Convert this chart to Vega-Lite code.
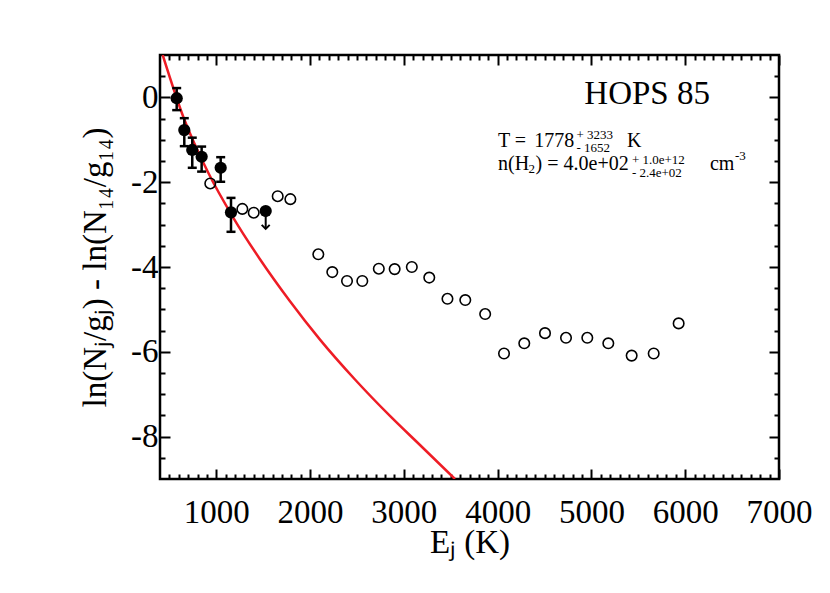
{
  "$schema": "https://vega.github.io/schema/vega-lite/v6.json",
  "width": 619,
  "height": 424,
  "autosize": "none",
  "padding": {"left": 160, "top": 55, "right": 51, "bottom": 114},
  "background": "white",
  "config": {
    "view": {"stroke": "black", "strokeWidth": 2.5},
    "axis": {
      "grid": false, "domain": false, "tickColor": "black", "tickWidth": 2,
      "labelFont": "Liberation Serif", "labelFontSize": 33, "labelColor": "black",
      "titleFont": "Liberation Serif", "titleFontSize": 33, "titleFontWeight": "normal", "titleColor": "black",
      "labelFlush": false, "labelOverlap": false, "labelBound": false
    }
  },
  "datasets": {
    "curve": [
      {"E": 429, "v": 1.0}, {"E": 648, "v": -0.455}, {"E": 912, "v": -1.767}, {"E": 1182, "v": -2.84},
      {"E": 1466, "v": -3.816}, {"E": 1786, "v": -4.807}, {"E": 2106, "v": -5.712}, {"E": 2479, "v": -6.653},
      {"E": 2852, "v": -7.512}, {"E": 3172, "v": -8.198}, {"E": 3545, "v": -9.0}
    ],
    "open": [
      {"E": 936, "v": -2.03}, {"E": 1278, "v": -2.63}, {"E": 1399, "v": -2.72}, {"E": 1655, "v": -2.33},
      {"E": 1790, "v": -2.40}, {"E": 2088, "v": -3.70}, {"E": 2237, "v": -4.12}, {"E": 2394, "v": -4.33},
      {"E": 2557, "v": -4.33}, {"E": 2733, "v": -4.04}, {"E": 2902, "v": -4.05}, {"E": 3085, "v": -4.0},
      {"E": 3271, "v": -4.25}, {"E": 3465, "v": -4.75}, {"E": 3655, "v": -4.78}, {"E": 3867, "v": -5.11},
      {"E": 4068, "v": -6.04}, {"E": 4284, "v": -5.80}, {"E": 4505, "v": -5.56}, {"E": 4729, "v": -5.67},
      {"E": 4956, "v": -5.67}, {"E": 5180, "v": -5.80}, {"E": 5429, "v": -6.09}, {"E": 5664, "v": -6.04},
      {"E": 5930, "v": -5.33}
    ],
    "det": [
      {"E": 578, "v": -0.02, "lo": -0.30, "hi": 0.22},
      {"E": 659, "v": -0.77, "lo": -1.15, "hi": -0.49},
      {"E": 744, "v": -1.24, "lo": -1.66, "hi": -0.95},
      {"E": 844, "v": -1.40, "lo": -1.75, "hi": -1.16},
      {"E": 1047, "v": -1.66, "lo": -1.99, "hi": -1.41},
      {"E": 1157, "v": -2.71, "lo": -3.17, "hi": -2.37}
    ],
    "lim": [{"E": 1527, "v": -2.68, "end": -3.10}],
    "big": [{"E": 6264, "v": -0.156, "t": "HOPS 85"}],
    "main": [
      {"E": 4004, "v": -1.17, "t": "T ="},
      {"E": 4390, "v": -1.17, "t": "1778"},
      {"E": 5380, "v": -1.17, "t": "K"},
      {"E": 4004, "v": -1.712, "t": "n(H"},
      {"E": 4405, "v": -1.712, "t": ") =  4.0e+02"},
      {"E": 6264, "v": -1.712, "t": "cm"}
    ],
    "small": [
      {"E": 4840, "v": -0.981, "t": "+ 3233"},
      {"E": 4840, "v": -1.288, "t": "- 1652"},
      {"E": 4330, "v": -1.783, "t": "2"},
      {"E": 5432, "v": -1.571, "t": "+ 1.0e+12"},
      {"E": 5432, "v": -1.877, "t": "- 2.4e+02"},
      {"E": 6531, "v": -1.476, "t": "-3"}
    ]
  },
  "resolve": {"axis": {"x": "independent", "y": "independent"}},
  "layer": [
    {
      "data": {"name": "curve"},
      "mark": {"type": "line", "color": "#ee1c25", "strokeWidth": 2.5, "interpolate": "monotone", "clip": true},
      "encoding": {
        "x": {"field": "E", "type": "quantitative", "scale": {"domain": [400, 7000], "nice": false, "zero": false},
          "axis": {"orient": "bottom", "values": [1000, 2000, 3000, 4000, 5000, 6000, 7000], "tickSize": -10,
            "labelPadding": 27, "labelExpr": "'' + datum.value", "title": "Eⱼ (K)", "titlePadding": -3}},
        "y": {"field": "v", "type": "quantitative", "scale": {"domain": [-9, 1], "nice": false, "zero": false},
          "axis": {"orient": "left", "values": [-8, -6, -4, -2, 0], "tickSize": -10, "labelPadding": 12,
            "labelExpr": "'' + datum.value", "title": "ln(Nⱼ/gⱼ) - ln(N₁₄/g₁₄)", "titlePadding": 18}}
      }
    },
    {
      "data": {"name": "open"},
      "mark": {"type": "point", "shape": "circle", "filled": false, "stroke": "black", "strokeWidth": 1.6, "size": 110, "opacity": 1},
      "encoding": {
        "x": {"field": "E", "type": "quantitative",
          "axis": {"orient": "top", "values": [1000, 2000, 3000, 4000, 5000, 6000, 7000], "tickSize": -10, "labels": false, "title": null}},
        "y": {"field": "v", "type": "quantitative",
          "axis": {"orient": "right", "values": [-8, -6, -4, -2, 0], "tickSize": -10, "labels": false, "title": null}}
      }
    },
    {
      "data": {"name": "det"},
      "mark": {"type": "rule", "color": "black", "strokeWidth": 2.5},
      "encoding": {
        "x": {"field": "E", "type": "quantitative",
          "axis": {"orient": "bottom", "tickSize": -5, "labels": false, "title": null,
            "values": [500,600,700,800,900,1100,1200,1300,1400,1500,1600,1700,1800,1900,2100,2200,2300,2400,2500,2600,2700,2800,2900,3100,3200,3300,3400,3500,3600,3700,3800,3900,4100,4200,4300,4400,4500,4600,4700,4800,4900,5100,5200,5300,5400,5500,5600,5700,5800,5900,6100,6200,6300,6400,6500,6600,6700,6800,6900]}},
        "y": {"field": "lo", "type": "quantitative",
          "axis": {"orient": "left", "tickSize": -5, "labels": false, "title": null,
            "values": [-8.5,-7.5,-7,-6.5,-5.5,-5,-4.5,-3.5,-3,-2.5,-1.5,-1,-0.5,0.5]}},
        "y2": {"field": "hi"}
      }
    },
    {
      "data": {"name": "det"},
      "mark": {"type": "point", "shape": "stroke", "stroke": "black", "strokeWidth": 2.5, "size": 81, "opacity": 1},
      "encoding": {
        "x": {"field": "E", "type": "quantitative",
          "axis": {"orient": "top", "tickSize": -5, "labels": false, "title": null,
            "values": [500,600,700,800,900,1100,1200,1300,1400,1500,1600,1700,1800,1900,2100,2200,2300,2400,2500,2600,2700,2800,2900,3100,3200,3300,3400,3500,3600,3700,3800,3900,4100,4200,4300,4400,4500,4600,4700,4800,4900,5100,5200,5300,5400,5500,5600,5700,5800,5900,6100,6200,6300,6400,6500,6600,6700,6800,6900]}},
        "y": {"field": "lo", "type": "quantitative",
          "axis": {"orient": "right", "tickSize": -5, "labels": false, "title": null,
            "values": [-8.5,-7.5,-7,-6.5,-5.5,-5,-4.5,-3.5,-3,-2.5,-1.5,-1,-0.5,0.5]}}
      }
    },
    {
      "data": {"name": "det"},
      "mark": {"type": "point", "shape": "stroke", "stroke": "black", "strokeWidth": 2.5, "size": 81, "opacity": 1},
      "encoding": {
        "x": {"field": "E", "type": "quantitative", "axis": null},
        "y": {"field": "hi", "type": "quantitative", "axis": null}
      }
    },
    {
      "data": {"name": "det"},
      "mark": {"type": "point", "shape": "circle", "filled": true, "color": "black", "size": 150, "opacity": 1},
      "encoding": {
        "x": {"field": "E", "type": "quantitative", "axis": null},
        "y": {"field": "v", "type": "quantitative", "axis": null}
      }
    },
    {
      "data": {"name": "lim"},
      "mark": {"type": "rule", "color": "black", "strokeWidth": 2},
      "encoding": {
        "x": {"field": "E", "type": "quantitative", "axis": null},
        "y": {"field": "v", "type": "quantitative", "axis": null},
        "y2": {"field": "end"}
      }
    },
    {
      "data": {"name": "lim"},
      "mark": {"type": "point", "shape": "M-1,-1L0,0L1,-1", "filled": false, "stroke": "black", "strokeWidth": 2, "size": 64, "opacity": 1},
      "encoding": {
        "x": {"field": "E", "type": "quantitative", "axis": null},
        "y": {"field": "end", "type": "quantitative", "axis": null}
      }
    },
    {
      "data": {"name": "lim"},
      "mark": {"type": "point", "shape": "circle", "filled": true, "color": "black", "size": 150, "opacity": 1},
      "encoding": {
        "x": {"field": "E", "type": "quantitative", "axis": null},
        "y": {"field": "v", "type": "quantitative", "axis": null}
      }
    },
    {
      "data": {"name": "big"},
      "mark": {"type": "text", "font": "Liberation Serif", "fontSize": 33, "align": "right", "baseline": "alphabetic", "color": "black"},
      "encoding": {
        "x": {"field": "E", "type": "quantitative", "axis": null},
        "y": {"field": "v", "type": "quantitative", "axis": null},
        "text": {"field": "t"}
      }
    },
    {
      "data": {"name": "main"},
      "mark": {"type": "text", "font": "Liberation Serif", "fontSize": 20, "align": "left", "baseline": "alphabetic", "color": "black"},
      "encoding": {
        "x": {"field": "E", "type": "quantitative", "axis": null},
        "y": {"field": "v", "type": "quantitative", "axis": null},
        "text": {"field": "t"}
      }
    },
    {
      "data": {"name": "small"},
      "mark": {"type": "text", "font": "Liberation Serif", "fontSize": 13, "align": "left", "baseline": "alphabetic", "color": "black"},
      "encoding": {
        "x": {"field": "E", "type": "quantitative", "axis": null},
        "y": {"field": "v", "type": "quantitative", "axis": null},
        "text": {"field": "t"}
      }
    }
  ]
}
